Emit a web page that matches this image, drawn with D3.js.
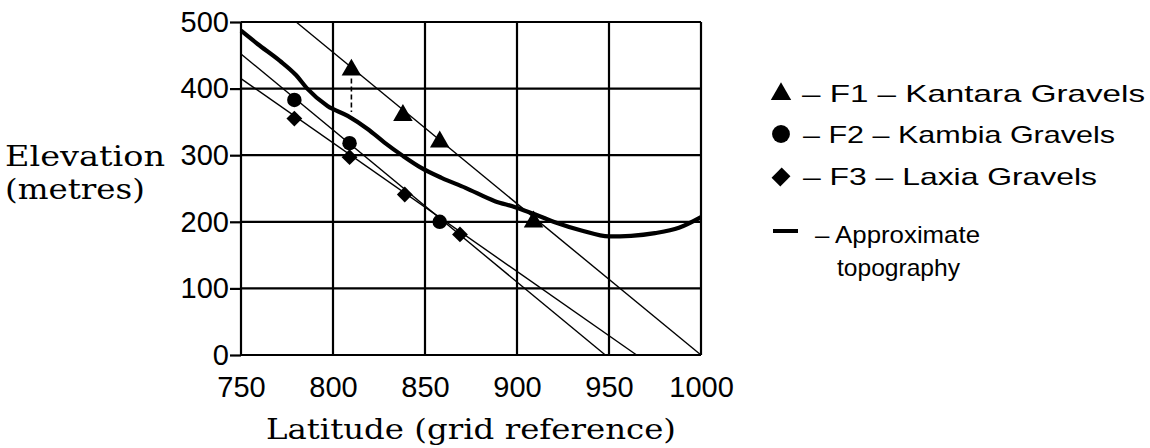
<!DOCTYPE html>
<html>
<head>
<meta charset="utf-8">
<script src="https://cdn.jsdelivr.net/npm/d3@7"></script>
<style>
  html, body { margin: 0; padding: 0; background: #fff; }
  svg { display: block; }
</style>
</head>
<body>
<svg id="chart" width="1150" height="448"></svg>
<script>
// ---------------- data ----------------
const xTicks = [750, 800, 850, 900, 950, 1000];
const yTicks = [0, 100, 200, 300, 400, 500];

const f1Lat  = [810, 838, 858, 909];
const f1Elev = [428, 360, 320, 200];
const f2Lat  = [779, 809, 858];
const f2Elev = [383, 318, 200];
const f3Lat  = [779, 809, 839, 869];
const f3Elev = [355, 297, 241, 181];

const f1TrendLat  = [780, 1000];
const f1TrendElev = [500, 0];
const f2TrendLat  = [750, 948];
const f2TrendElev = [452, 0];
const f3TrendLat  = [750, 965];
const f3TrendElev = [415, 0];

const topoLat  = [750, 759, 771, 780, 786, 797, 808, 819, 828, 838, 848, 859, 872, 888, 899, 910, 921, 935, 950, 962, 975, 988, 1000];
const topoElev = [487, 467, 442, 420, 400, 374, 359, 339, 319, 299, 281, 266, 251, 231, 222, 211, 199, 187, 178, 179, 183, 191, 207];

const linkLat  = [810, 810];
const linkElev = [415, 365];

const legendLabels = ["– F1 – Kantara Gravels", "– F2 – Kambia Gravels", "– F3 – Laxia Gravels", "– Approximate", "topography"];
const xTitle = "Latitude (grid reference)";
const yTitle = ["Elevation", "(metres)"];

// ---------------- layout ----------------
const svg = d3.select("#chart");
const x = d3.scaleLinear().domain([750, 1000]).range([241, 701]);
const y = d3.scaleLinear().domain([0, 500]).range([355, 22]);

const zip = (a, b) => a.map((v, i) => [v, b[i]]);
const line = d3.line().x(d => x(d[0])).y(d => y(d[1]));

// grid
const grid = svg.append("g").attr("stroke", "#000").attr("stroke-width", 2.2);
grid.selectAll("line.v").data(xTicks).join("line")
  .attr("x1", d => x(d)).attr("x2", d => x(d))
  .attr("y1", y(0)).attr("y2", y(500));
grid.selectAll("line.h").data(yTicks).join("line")
  .attr("x1", x(750)).attr("x2", x(1000))
  .attr("y1", d => y(d)).attr("y2", d => y(d));

// axes (labels + left ticks)
const tickFont = "Liberation Sans, Arial, sans-serif";
const yAxis = d3.axisLeft(y).tickValues(yTicks).tickSize(11).tickPadding(1).tickFormat(d3.format("d"));
const gy = svg.append("g").attr("transform", `translate(${x(750)},0)`).call(yAxis);
gy.select(".domain").remove();
gy.selectAll("line").attr("stroke", "#000").attr("stroke-width", 2.2);
gy.selectAll("text").attr("font-family", tickFont).attr("font-size", 29).attr("fill", "#000");

const xAxis = d3.axisBottom(x).tickValues(xTicks).tickSize(0).tickPadding(21).tickFormat(d3.format("d"));
const gx = svg.append("g").attr("transform", `translate(0,${y(0)})`).call(xAxis);
gx.select(".domain").remove();
gx.selectAll("text").attr("font-family", tickFont).attr("font-size", 29).attr("fill", "#000");

// trend lines
const thin = svg.append("g").attr("fill", "none").attr("stroke", "#000").attr("stroke-width", 1.4);
thin.append("path").attr("d", line(zip(f1TrendLat, f1TrendElev)));
thin.append("path").attr("d", line(zip(f2TrendLat, f2TrendElev)));
thin.append("path").attr("d", line(zip(f3TrendLat, f3TrendElev)));
thin.append("path").attr("d", line(zip(linkLat, linkElev))).attr("stroke-dasharray", "5,3").attr("stroke-width", 1.6);

// topography
svg.append("path")
  .attr("d", d3.line().x(d => x(d[0])).y(d => y(d[1])).curve(d3.curveMonotoneX)(zip(topoLat, topoElev)))
  .attr("fill", "none").attr("stroke", "#000").attr("stroke-width", 4.2).attr("stroke-linejoin", "round");

// markers
const tri = d3.symbol().type(d3.symbolTriangle).size(165);
const circ = d3.symbol().type(d3.symbolCircle).size(165);
const dia = d3.symbol().type(d3.symbolSquare).size(125);
const marks = svg.append("g").attr("fill", "#000");
marks.selectAll("path.t").data(zip(f1Lat, f1Elev)).join("path").attr("class", "t")
  .attr("d", tri).attr("transform", d => `translate(${x(d[0])},${y(d[1])})`);
marks.selectAll("path.c").data(zip(f2Lat, f2Elev)).join("path").attr("class", "c")
  .attr("d", circ).attr("transform", d => `translate(${x(d[0])},${y(d[1])})`);
marks.selectAll("path.d").data(zip(f3Lat, f3Elev)).join("path").attr("class", "d")
  .attr("d", dia).attr("transform", d => `translate(${x(d[0])},${y(d[1])}) rotate(45)`);

// axis titles
const serif = "DejaVu Serif, Liberation Serif, serif";
svg.append("text").attr("x", 5).attr("y", 166).attr("font-family", serif).attr("font-size", 27)
  .attr("textLength", 160).attr("lengthAdjust", "spacingAndGlyphs").text(yTitle[0]);
svg.append("text").attr("x", 5).attr("y", 199).attr("font-family", serif).attr("font-size", 27)
  .attr("textLength", 140).attr("lengthAdjust", "spacingAndGlyphs").text(yTitle[1]);
svg.append("text").attr("x", 266).attr("y", 439).attr("font-family", serif).attr("font-size", 27)
  .attr("textLength", 410).attr("lengthAdjust", "spacingAndGlyphs").text(xTitle);

// legend
const lg = svg.append("g");
const sans = "Liberation Sans Narrow, Liberation Sans, Arial, sans-serif";
const legRows = [
  {sym: d3.symbol().type(d3.symbolTriangle).size(180)(), rot: 0, y: 94, tx: 802, ty: 102, w: 343},
  {sym: d3.symbol().type(d3.symbolCircle).size(250)(), rot: 0, y: 134, tx: 803, ty: 143, w: 312},
  {sym: d3.symbol().type(d3.symbolSquare).size(170)(), rot: 45, y: 177, tx: 803, ty: 185, w: 294}
];
legRows.forEach((r, i) => {
  lg.append("path").attr("d", r.sym).attr("fill", "#000")
    .attr("transform", `translate(781,${r.y}) rotate(${r.rot}) scale(${r.rot ? "0.95,1.1" : "1"})`);
  lg.append("text").attr("x", r.tx).attr("y", r.ty).attr("font-family", sans).attr("font-size", 24)
    .attr("textLength", r.w).attr("lengthAdjust", "spacingAndGlyphs").text(legendLabels[i]);
});
lg.append("line").attr("x1", 773).attr("x2", 798).attr("y1", 231).attr("y2", 231)
  .attr("stroke", "#000").attr("stroke-width", 4);
lg.append("text").attr("x", 815).attr("y", 243).attr("font-family", sans).attr("font-size", 24)
  .attr("textLength", 165).attr("lengthAdjust", "spacingAndGlyphs").text(legendLabels[3]);
lg.append("text").attr("x", 837).attr("y", 276).attr("font-family", sans).attr("font-size", 24)
  .attr("textLength", 123).attr("lengthAdjust", "spacingAndGlyphs").text(legendLabels[4]);
</script>
</body>
</html>
